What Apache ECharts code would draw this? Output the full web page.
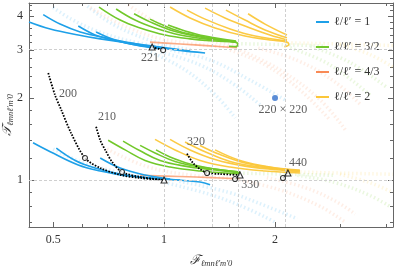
<!DOCTYPE html>
<html><head><meta charset="utf-8">
<script src="https://cdn.jsdelivr.net/npm/echarts@6/dist/echarts.min.js"></script>
<style>html,body{margin:0;padding:0;background:#fff}#c{width:397px;height:268px}</style>
</head><body><div id="c"></div>
<script>
// ---------- axis ticks ----------
const xMajorTicks = [0.5, 1, 2];
const xMinorTicks = [0.6, 0.7, 0.8, 0.9, 1.5, 3, 4];
const yMajorTicks = [1, 2, 3, 4];
const yMinorTicks = [0.7, 0.8, 0.9, 1.2, 1.4, 1.6, 1.8, 2.2, 2.4, 2.6, 2.8, 3.2, 3.4, 3.6, 3.8, 4.2, 4.4];
const xRange = [0.43, 4.18];
const yRange = [0.672, 4.47];
const refX = [1, 1.349, 1.59, 2.14];
const refY = [1, 3];

// ---------- families ----------
const familyNames = ['ℓ/ℓ′ = 1', 'ℓ/ℓ′ = 3/2', 'ℓ/ℓ′ = 4/3', 'ℓ/ℓ′ = 2'];

// ℓ/ℓ' = 1 (blue)
const blueUp1 = [[0.430,3.81],[0.491,3.59],[0.585,3.41],[0.671,3.30],[0.799,3.19],[0.916,3.11],[1.091,3.00],[1.292,2.93]];
const blueUp2 = [[0.470,4.05],[0.522,3.74],[0.592,3.50],[0.692,3.33],[0.809,3.19],[0.975,3.08],[1.176,2.98]];
const blueUp3 = [[0.585,3.68],[0.650,3.41],[0.705,3.30],[0.809,3.16],[0.916,3.08],[1.071,3.02]];
const blueUp4 = [[0.654,3.50],[0.736,3.27],[0.861,3.11],[1.006,3.03]];
const blueLo1 = [[0.441,1.37],[0.491,1.27],[0.585,1.135],[0.671,1.079],[0.799,1.034],[0.994,1.008],[1.252,0.983],[1.333,0.96]];
const blueLo2 = [[0.510,1.31],[0.574,1.18],[0.650,1.107],[0.760,1.052],[0.916,1.017],[1.105,1.0]];
const blueLo3 = [[0.671,1.205],[0.760,1.107],[0.888,1.043],[1.038,1.008]];

// ℓ/ℓ' = 3/2 (green)
const greenUp1 = [[0.666,4.32],[0.760,3.87],[0.861,3.62],[1.006,3.41],[1.176,3.30],[1.375,3.24],[1.558,3.21],[1.585,3.15],[1.568,3.09],[1.50,3.10]];
const greenUp2 = [[0.741,4.25],[0.834,3.87],[0.945,3.62],[1.105,3.41],[1.292,3.30],[1.558,3.24]];
const greenUp3 = [[0.829,4.08],[0.916,3.81],[1.038,3.56],[1.214,3.38],[1.419,3.27],[1.568,3.21]];
const greenUp4 = [[0.916,3.90],[1.006,3.68],[1.140,3.47],[1.333,3.33],[1.568,3.21]];
const greenUp5 = [[1.025,3.71],[1.140,3.53],[1.292,3.38],[1.568,3.24]];
const greenLo1 = [[0.705,1.40],[0.784,1.29],[0.888,1.18],[1.038,1.116],[1.252,1.079],[1.607,1.052]];
const greenLo2 = [[0.774,1.39],[0.861,1.28],[0.975,1.18],[1.140,1.125],[1.375,1.088],[1.607,1.061]];
const greenLo3 = [[0.861,1.34],[0.945,1.257],[1.071,1.17],[1.252,1.116],[1.607,1.070]];
const greenLo4 = [[0.951,1.29],[1.038,1.215],[1.176,1.145],[1.375,1.097],[1.607,1.070]];

// ℓ/ℓ' = 4/3 (orange)
const orangeUp1 = [[0.916,3.21],[1.105,3.16],[1.333,3.11],[1.577,3.06]];
const orangeLo1 = [[0.861,1.04],[1.10,1.03],[1.35,1.02],[1.60,1.01]];

// ℓ/ℓ' = 2 (yellow)
const yellowUp1 = [[1.038,4.32],[1.176,3.94],[1.375,3.62],[1.658,3.38],[1.938,3.27],[2.155,3.21],[2.18,3.14],[2.12,3.09]];
const yellowUp2 = [[1.154,4.21],[1.292,3.90],[1.510,3.59],[1.766,3.38],[2.155,3.24]];
const yellowUp3 = [[1.292,4.28],[1.463,3.94],[1.712,3.62],[1.938,3.41],[2.155,3.27]];
const yellowUp4 = [[1.472,4.21],[1.658,3.87],[1.879,3.56],[2.155,3.33]];
const yellowUp5 = [[1.690,4.08],[1.879,3.74],[2.155,3.41]];
const yellowLo1 = [[0.945,1.41],[1.071,1.29],[1.252,1.18],[1.510,1.116],[1.879,1.079],[2.336,1.061]];
const yellowLo2 = [[1.038,1.41],[1.176,1.29],[1.375,1.19],[1.658,1.125],[2.062,1.088],[2.336,1.070]];
const yellowLo3 = [[1.140,1.38],[1.292,1.27],[1.510,1.17],[1.821,1.116],[2.336,1.079]];
const yellowLo4 = [[1.252,1.34],[1.419,1.24],[1.658,1.155],[1.999,1.107],[2.336,1.079]];
const yellowLo5 = [[1.375,1.29],[1.607,1.18],[1.938,1.116],[2.336,1.088]];

// faint (dotted, translucent) branches
const faintBlue = [
  [[0.50,4.30],[0.56,3.90],[0.65,3.55],[0.80,3.25],[1.0,3.08]],
  [[0.62,4.35],[0.70,3.85],[0.82,3.45],[1.0,3.15],[1.2,3.0]],
  [[1.04,3.0],[1.33,2.76],[1.71,2.33],[2.13,1.97]],
  [[0.98,2.95],[1.25,2.65],[1.56,2.23],[1.82,1.89]],
  [[0.92,2.95],[1.14,2.54],[1.38,2.05],[1.56,1.69]],
  [[0.50,1.30],[0.60,1.16],[0.75,1.07],[0.95,1.01]],
  [[1.0,0.98],[1.35,0.88],[1.7,0.78],[2.0,0.70]],
  [[1.1,0.99],[1.5,0.90],[1.9,0.80],[2.3,0.72]]
];
const faintOrange = [
  [[0.63,4.3],[0.81,3.6],[1.04,3.25],[1.5,3.08]],
  [[0.80,4.4],[0.95,3.8],[1.2,3.35],[1.6,3.12]],
  [[1.61,3.0],[2.06,2.54],[2.65,1.97],[3.10,1.53]],
  [[1.51,3.0],[1.88,2.65],[2.34,2.14],[2.82,1.66]],
  [[1.80,3.05],[2.3,2.75],[2.9,2.3],[3.4,1.9]],
  [[0.70,1.30],[0.90,1.12],[1.2,1.04],[1.6,1.01]],
  [[1.6,1.0],[2.06,0.92],[2.65,0.80],[3.1,0.70]],
  [[1.9,1.02],[2.4,0.94],[2.9,0.84],[3.3,0.75]]
];
const faintGreen = [
  [[1.58,3.17],[2.14,3.14],[2.7,3.11]],
  [[2.2,3.06],[2.82,2.65],[3.62,2.05]],
  [[2.5,3.1],[3.2,2.7],[4.0,2.2]],
  [[1.6,1.06],[2.2,1.05],[2.9,1.04]],
  [[2.3,1.04],[2.9,0.98],[3.6,0.88],[4.1,0.80]]
];
const faintYellow = [
  [[2.16,3.19],[3.0,3.16],[4.18,3.12]],
  [[3.0,3.15],[3.6,2.9],[4.18,2.6]],
  [[2.34,1.07],[3.0,1.06],[4.18,1.05]],
  [[3.0,1.05],[3.6,0.98],[4.18,0.90]]
];

// black dotted reference tracks
const track200 = [[0.485,2.47],[0.506,2.05],[0.526,1.81],[0.559,1.49],[0.610,1.205],[0.671,1.107],[0.764,1.043],[0.861,1.017],[1.0,1.0]];
const track210 = [[0.654,1.57],[0.671,1.40],[0.692,1.29],[0.723,1.165],[0.769,1.070],[0.861,1.026],[1.0,1.0]];
const track221 = [[0.928,3.08],[0.994,3.0]];
const track320 = [[1.154,1.25],[1.198,1.155],[1.252,1.097],[1.308,1.061],[1.419,1.052],[1.607,1.043]];
const track330 = [[1.558,1.008],[1.607,1.043]];
const track440 = [[2.102,1.017],[2.168,1.061]];

const circleX = [0.610, 0.769, 0.994, 1.308, 1.558, 2.102];
const circleY = [1.205, 1.070, 3.0, 1.061, 1.008, 1.017];
const triX = [1.0, 0.928, 1.607, 2.168];
const triY = [1.0, 3.08, 1.043, 1.061];

const pointX = [2.0];
const pointY = [2.0];

const labelText = ['200', '210', '221', '320', '330', '440', '220 × 220'];
const labelX = [0.549, 0.700, 0.916, 1.221, 1.712, 2.309, 2.102];
const labelY = [2.07, 1.70, 2.81, 1.38, 0.958, 1.155, 1.81];

// ---------- build ----------
const LG = v => Math.log10(v);
const T = arr => arr.map(p => [LG(p[0]), LG(p[1])]);
const COL = ['#1ea0e8', '#72c82b', '#f98a55', '#fbc73a'];
const SERIF = 'Liberation Serif';

const series = [];
series.push({
  type: 'line', data: [], silent: true,
  markLine: {
    silent: true, symbol: 'none', label: {show: false},
    lineStyle: {type: [3, 2], color: '#cfcfcf', width: 1},
    data: refX.map(v => ({xAxis: LG(v)})).concat(refY.map(v => ({yAxis: LG(v)})))
  }
});
function faint(list, color) {
  list.forEach(d => series.push({
    type: 'line', data: T(d), smooth: 0.4, symbol: 'none', silent: true,
    lineStyle: {color, width: 3.5, type: [1.5, 2.5], opacity: 0.15}
  }));
}
faint(faintBlue, COL[0]); faint(faintOrange, COL[2]); faint(faintGreen, COL[1]); faint(faintYellow, COL[3]);

function solid(list, fi, w, op) {
  list.forEach(d => series.push({
    name: familyNames[fi], type: 'line', data: T(d), smooth: 0.4, symbol: 'none',
    itemStyle: {color: COL[fi]},
    lineStyle: {color: COL[fi], width: w, opacity: op}
  }));
}
solid([orangeUp1, orangeLo1], 2, 1.6, 0.7);
solid([blueUp1, blueUp2, blueUp3, blueUp4, blueLo1, blueLo2, blueLo3], 0, 1.6, 1);
solid([greenUp1, greenUp2, greenUp3, greenUp4, greenUp5, greenLo1, greenLo2, greenLo3, greenLo4], 1, 1.6, 1);
solid([yellowUp1, yellowUp2, yellowUp3, yellowUp4, yellowUp5, yellowLo1, yellowLo2, yellowLo3, yellowLo4, yellowLo5], 3, 1.6, 0.95);

[track200, track210, track221, track320, track330, track440].forEach(d => series.push({
  type: 'line', data: T(d), smooth: 0.3, symbol: 'none', silent: true,
  lineStyle: {color: '#000', width: 1.8, type: [1.6, 1.4]}
}));
series.push({
  type: 'scatter', symbol: 'circle', symbolSize: 5, silent: true,
  itemStyle: {color: '#fff', borderColor: '#000', borderWidth: 1.1},
  data: circleX.map((x, i) => [LG(x), LG(circleY[i])]), z: 5
});
series.push({
  type: 'scatter', symbol: 'triangle', symbolSize: 6, silent: true,
  itemStyle: {color: '#fff', borderColor: '#000', borderWidth: 1.1},
  data: triX.map((x, i) => [LG(x), LG(triY[i])]), z: 5
});
series.push({
  type: 'scatter', symbol: 'circle', symbolSize: 6, silent: true,
  itemStyle: {color: '#2f6fcc'},
  data: pointX.map((x, i) => [LG(x), LG(pointY[i])]), z: 5
});
series.push({
  type: 'scatter', symbolSize: 0, silent: true, z: 6,
  data: labelX.map((x, i) => [LG(x), LG(labelY[i]), labelText[i]]),
  label: {show: true, position: 'inside', formatter: p => p.value[2],
    color: '#333', fontFamily: SERIF, fontSize: 12}
});

const fmt = v => String(Number(Math.pow(10, v).toPrecision(3)));
function axis(dim, pos, ticks, len, labels, line, extra) {
  const r = dim === 'x' ? xRange : yRange;
  return Object.assign({
    type: 'value', position: pos, min: LG(r[0]), max: LG(r[1]),
    nameMoveOverlap: false,
    axisLine: {show: line, onZero: false, lineStyle: {color: '#666', width: 1}},
    axisTick: {show: true, inside: true, length: len, customValues: ticks.map(LG),
      lineStyle: {color: '#666', width: 1}},
    axisLabel: {show: labels, customValues: ticks.map(LG), formatter: fmt,
      color: '#333', fontFamily: SERIF, fontSize: 12, margin: dim === 'x' ? 7 : 6},
    splitLine: {show: false}
  }, extra || {});
}
const rich = {
  b: {fontFamily: 'DejaVu Serif', fontSize: 13, fontStyle: 'italic', color: '#333'},
  s: {fontFamily: SERIF, fontSize: 8.5, fontStyle: 'italic', color: '#333', padding: [5, 0, 0, 0]}
};
const option = {
  animation: false,
  backgroundColor: '#fff',
  grid: {left: 29, right: 4, top: 3, bottom: 41, containLabel: false, outerBoundsMode: 'none'},
  legend: {
    show: true, orient: 'vertical', left: 311, top: 11, itemGap: 13,
    itemWidth: 13, itemHeight: 2, icon: 'rect', data: familyNames,
    textStyle: {fontFamily: SERIF, fontSize: 12, color: '#333'}
  },
  xAxis: [
    axis('x', 'bottom', xMajorTicks, 5, true, true, {
      name: '{b|ℱ}{s|ℓmnℓ′m′0}', nameLocation: 'middle', nameGap: 27,
      nameTextStyle: {rich}
    }),
    axis('x', 'bottom', xMinorTicks, 3, false, false),
    axis('x', 'top', xMajorTicks, 5, false, true),
    axis('x', 'top', xMinorTicks, 3, false, false)
  ],
  yAxis: [
    axis('y', 'left', yMajorTicks, 5, true, true, {
      name: '{b|𝒯}{s|ℓmnℓ′m′0}', nameLocation: 'middle', nameGap: 14,
      nameTextStyle: {rich}
    }),
    axis('y', 'left', yMinorTicks, 3, false, false),
    axis('y', 'right', yMajorTicks, 5, false, true),
    axis('y', 'right', yMinorTicks, 3, false, false)
  ],
  series
};
const chart = echarts.init(document.getElementById('c'), null, {renderer: 'canvas'});
chart.setOption(option);
</script></body></html>
